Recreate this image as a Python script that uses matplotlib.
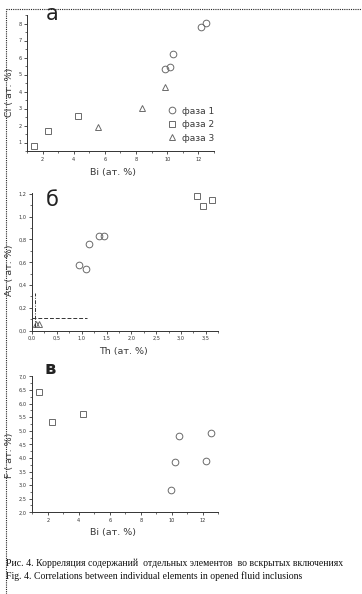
import matplotlib
matplotlib.use('Agg')
import matplotlib.pyplot as plt
from matplotlib.lines import Line2D
from matplotlib.ticker import MultipleLocator, FuncFormatter

# panel a: Cl vs Bi
a_bi_f1 = [9.85, 10.19, 10.36, 12.15, 12.49]
a_cl_f1 = [5.35, 5.42, 6.19, 7.80, 8.03]
a_bi_f2 = [1.42, 2.32, 4.27]
a_cl_f2 = [0.82, 1.65, 2.53]
a_bi_f3 = [5.53, 8.41, 9.87]
a_cl_f3 = [1.90, 3.02, 4.26]

# panel b: As vs Th
b_th_f1 = [0.95, 1.08, 1.15, 1.34, 1.45]
b_as_f1 = [0.578, 0.545, 0.763, 0.833, 0.833]
b_th_f2 = [3.33, 3.45, 3.63]
b_as_f2 = [1.18, 1.09, 1.15]
b_th_f3 = [0.09, 0.15]
b_as_f3 = [0.06, 0.06]
b_hline = ([0.0, 1.1], [0.11, 0.11])
b_vline = ([0.06, 0.06], [0.03, 0.33])

# panel v: F vs Bi
v_bi_f1 = [9.93, 10.23, 10.45, 12.2, 12.55]
v_f_f1 = [2.81, 3.84, 4.82, 3.89, 4.92]
v_bi_f2 = [1.42, 2.28, 4.24]
v_f_f2 = [6.43, 5.33, 5.63]

labels = ['фаза 1', 'фаза 2', 'фаза 3']
mcol = '#6a6a6a'
tcol = '#3a3a3a'
ms = 4.8

fig = plt.figure(figsize=(3.62, 5.94), dpi=100)


def px(l, t, r, b):
    return [l / 362, (594 - b) / 594, (r - l) / 362, (b - t) / 594]


def style(ax, xmaj, xmin, ymaj, ymin, comma):
    for s in ['top', 'right']:
        ax.spines[s].set_visible(False)
    for s in ['left', 'bottom']:
        ax.spines[s].set_color('#333333')
        ax.spines[s].set_linewidth(0.7)
    ax.xaxis.set_major_locator(MultipleLocator(xmaj))
    ax.xaxis.set_minor_locator(MultipleLocator(xmin))
    ax.yaxis.set_major_locator(MultipleLocator(ymaj))
    ax.yaxis.set_minor_locator(MultipleLocator(ymin))
    ax.tick_params(which='major', direction='out', length=2.5, width=0.6,
                   labelsize=3.6, colors='#333333', pad=1.5)
    ax.tick_params(which='minor', direction='out', length=1.3, width=0.5,
                   colors='#333333')
    if comma:
        f = FuncFormatter(lambda v, p: ('%.1f' % v).replace('.', ','))
        if comma == 'xy':
            ax.xaxis.set_major_formatter(f)
        ax.yaxis.set_major_formatter(f)


def pts(ax, x, y, m, lab=None):
    ax.plot(x, y, m, ls='none', mfc='none', mec=mcol, ms=ms, mew=0.7,
            label=lab)


# panel a
ax1 = fig.add_axes(px(27, 15, 214, 151))
pts(ax1, a_bi_f1, a_cl_f1, 'o', labels[0])
pts(ax1, a_bi_f2, a_cl_f2, 's', labels[1])
pts(ax1, a_bi_f3, a_cl_f3, '^', labels[2])
ax1.set_xlim(1, 13)
ax1.set_ylim(0.5, 8.5)
style(ax1, 2, 1, 1, 0.5, None)
ax1.legend(loc='upper left', bbox_to_anchor=(0.72, 0.36), frameon=False,
           fontsize=6.5, labelspacing=0.5, handletextpad=0.6,
           handlelength=1.2, borderpad=0, labelcolor=tcol)

# panel b
ax2 = fig.add_axes(px(32, 192.7, 218.3, 330.7))
pts(ax2, b_th_f1, b_as_f1, 'o')
pts(ax2, b_th_f2, b_as_f2, 's')
pts(ax2, b_th_f3, b_as_f3, '^')
ax2.plot(*b_hline, ls=(0, (4, 2)), color='#333333', lw=0.7)
ax2.plot(*b_vline, ls=(0, (4, 1.5, 1, 1.5)), color='#333333', lw=0.7)
ax2.set_xlim(0, 3.75)
ax2.set_ylim(0, 1.21)
style(ax2, 0.5, 0.25, 0.2, 0.1, 'xy')

# panel v
ax3 = fig.add_axes(px(32.3, 376.3, 218.3, 512.3))
pts(ax3, v_bi_f1, v_f_f1, 'o')
pts(ax3, v_bi_f2, v_f_f2, 's')
ax3.set_xlim(1, 13)
ax3.set_ylim(2.0, 7.0)
style(ax3, 2, 1, 0.5, 0.25, 'y')

# axis titles
fig.text(113 / 362, 1 - 172 / 594, 'Bi (ат. %)', ha='center', va='center',
         fontsize=6.8, color=tcol)
fig.text(123 / 362, 1 - 351.7 / 594, 'Th (ат. %)', ha='center', va='center',
         fontsize=6.8, color=tcol)
fig.text(113 / 362, 1 - 533 / 594, 'Bi (ат. %)', ha='center', va='center',
         fontsize=6.8, color=tcol)
fig.text(10 / 362, 1 - 92 / 594, 'Cl ( ат. %)', ha='center', va='center',
         rotation=90, fontsize=6.8, color=tcol)
fig.text(10 / 362, 1 - 270 / 594, 'As ( ат. %)', ha='center', va='center',
         rotation=90, fontsize=6.8, color=tcol)
fig.text(10 / 362, 1 - 455 / 594, 'F ( ат. %)', ha='center', va='center',
         rotation=90, fontsize=6.8, color=tcol)

# panel letters
fig.text(52 / 362, 1 - 14 / 594, 'а', ha='center', va='center',
         fontsize=15, color='#222222')
fig.text(52 / 362, 1 - 200 / 594, 'б', ha='center', va='center',
         fontsize=15, color='#222222')
fig.text(50 / 362, 1 - 369 / 594, 'в', ha='center', va='center',
         fontsize=13, fontweight='bold', color='#222222')

# caption
fig.text(6 / 362, 1 - 563 / 594,
         'Рис. 4. Корреляция содержаний  отдельных элементов  во вскрытых включениях',
         ha='left', va='center', fontsize=7.0, family='Liberation Serif',
         color='#111111')
fig.text(6 / 362, 1 - 576 / 594,
         'Fig. 4. Correlations between individual elements in opened fluid inclusions',
         ha='left', va='center', fontsize=7.0, family='Liberation Serif',
         color='#111111')

# dotted frame
fig.add_artist(Line2D([6 / 362, 1], [1 - 9 / 594, 1 - 9 / 594],
                      transform=fig.transFigure, color='#222222', lw=0.8,
                      ls=(0, (1, 1))))
fig.add_artist(Line2D([6 / 362, 6 / 362], [0, 1 - 9 / 594],
                      transform=fig.transFigure, color='#222222', lw=0.8,
                      ls=(0, (1, 1))))

fig.savefig('out.png', dpi=100)
